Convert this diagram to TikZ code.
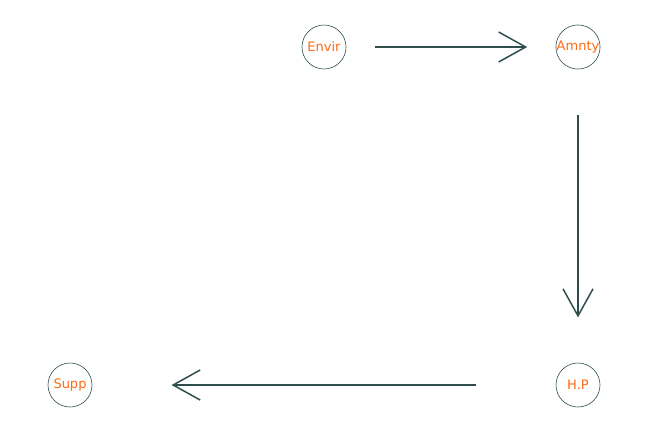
\documentclass[tikz,border=0pt]{standalone}
\usepackage{fontspec}
\setmainfont{DejaVu Sans}
\usetikzlibrary{arrows.meta,calc}
\definecolor{slate}{HTML}{2F4F4F}
\definecolor{labelorange}{HTML}{FF6A13}
\tikzset{
  station/.style={circle,draw=slate,line width=0.6pt,minimum size=44pt,
                  inner sep=0pt,text=labelorange,font=\fontsize{13}{15}\selectfont},
  flowarr/.style={-{Straight Barb[length=27pt,width=30pt,line width=1.5pt]},
                  line width=1.5pt,draw=slate}
}
\begin{document}
\begin{tikzpicture}[x=1pt,y=-1pt]
  \path[use as bounding box,fill=white] (0,0) rectangle (648,432);
  \node[station] (envir) at (324,47) {Envir};
  \node[station] (amnty) at (578,47) {Amnty};
  \node[station] (hp) at (578,385) {H.P};
  \node[station] (supp) at (70,385) {Supp};
  \foreach \a/\b in {envir/amnty,amnty/hp,hp/supp}{
    \draw[flowarr] ($(\a)!0.2!(\b)$) -- ($(\a)!0.8!(\b)$);
  }
\end{tikzpicture}
\end{document}
